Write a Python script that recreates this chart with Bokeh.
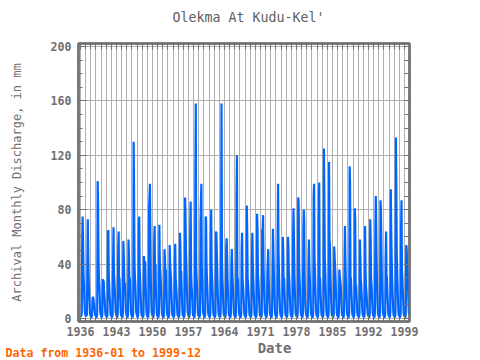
from bokeh.plotting import figure
from bokeh.models import LinearAxis, FixedTicker, Range1d
from bokeh.layouts import column
from bokeh.core.properties import value
from bokeh.embed import file_html
from bokeh.resources import INLINE

# Monthly discharge (mm), Jan..Dec
q_1936_1945 = [
    [2, 2, 2, 4, 58, 75, 54, 32, 25, 14, 5, 3],
    [2, 2, 2, 3, 40, 73, 48, 30, 20, 12, 4, 2],
    [2, 1, 1, 3, 14, 16, 15, 12, 10, 6, 3, 2],
    [2, 1, 1, 4, 101, 83, 46, 30, 25, 15, 5, 3],
    [2, 1, 1, 3, 29, 24, 28, 20, 16, 10, 4, 2],
    [2, 1, 1, 3, 63, 65, 30, 25, 16, 12, 4, 2],
    [2, 1, 1, 4, 41, 67, 33, 28, 22, 14, 5, 3],
    [2, 1, 1, 4, 52, 64, 24, 30, 20, 12, 4, 2],
    [2, 1, 1, 4, 57, 46, 30, 22, 26, 14, 5, 3],
    [2, 1, 1, 4, 58, 46, 25, 30, 20, 12, 4, 2],
]
q_1946_1955 = [
    [2, 1, 1, 5, 130, 91, 40, 30, 25, 14, 5, 3],
    [2, 1, 1, 4, 68, 75, 38, 30, 20, 12, 4, 2],
    [2, 1, 1, 3, 46, 37, 30, 42, 25, 12, 4, 2],
    [2, 1, 1, 5, 81, 90, 99, 64, 30, 15, 5, 3],
    [2, 1, 1, 4, 58, 68, 25, 40, 20, 12, 4, 2],
    [2, 1, 1, 4, 69, 42, 35, 30, 20, 12, 4, 2],
    [2, 1, 1, 4, 51, 45, 30, 36, 22, 12, 4, 2],
    [2, 1, 1, 4, 54, 42, 35, 30, 20, 12, 4, 2],
    [2, 1, 1, 3, 38, 55, 30, 25, 20, 12, 4, 2],
    [2, 1, 1, 4, 63, 54, 30, 35, 22, 12, 4, 2],
]
q_1956_1965 = [
    [2, 1, 1, 5, 89, 76, 50, 40, 25, 14, 5, 3],
    [2, 1, 1, 4, 64, 86, 35, 25, 20, 12, 4, 2],
    [2, 1, 1, 5, 100, 158, 37, 30, 22, 12, 4, 2],
    [2, 1, 1, 4, 70, 86, 99, 38, 28, 14, 5, 3],
    [2, 1, 1, 4, 75, 73, 40, 30, 22, 12, 4, 2],
    [2, 1, 1, 4, 59, 80, 38, 30, 22, 12, 4, 2],
    [2, 1, 1, 4, 64, 63, 50, 35, 22, 12, 4, 2],
    [2, 1, 1, 4, 45, 158, 45, 30, 22, 12, 4, 2],
    [2, 1, 1, 4, 52, 59, 47, 30, 20, 12, 4, 2],
    [2, 1, 1, 4, 39, 51, 35, 28, 20, 12, 4, 2],
]
q_1966_1975 = [
    [2, 1, 1, 5, 90, 120, 22, 30, 20, 12, 4, 2],
    [2, 1, 1, 4, 51, 63, 30, 25, 20, 12, 4, 2],
    [2, 1, 1, 5, 83, 63, 30, 25, 20, 12, 4, 2],
    [2, 1, 1, 4, 46, 63, 40, 30, 20, 12, 4, 2],
    [2, 1, 1, 4, 77, 65, 32, 28, 20, 12, 4, 2],
    [2, 1, 1, 4, 65, 66, 76, 40, 25, 14, 5, 3],
    [2, 1, 1, 3, 32, 42, 51, 30, 20, 12, 4, 2],
    [2, 1, 1, 4, 35, 66, 50, 35, 22, 12, 4, 2],
    [2, 1, 1, 5, 64, 99, 50, 35, 22, 12, 4, 2],
    [2, 1, 1, 4, 60, 50, 25, 30, 20, 12, 4, 2],
]
q_1976_1985 = [
    [2, 1, 1, 4, 60, 54, 35, 30, 20, 12, 4, 2],
    [2, 1, 1, 4, 59, 81, 60, 35, 22, 12, 4, 2],
    [2, 1, 1, 5, 89, 85, 40, 30, 22, 12, 4, 2],
    [2, 1, 1, 4, 66, 80, 71, 30, 15, 8, 4, 2],
    [2, 1, 1, 4, 45, 58, 38, 30, 20, 12, 4, 2],
    [2, 1, 1, 5, 90, 99, 45, 35, 22, 12, 4, 2],
    [2, 1, 1, 5, 84, 100, 25, 30, 20, 12, 4, 2],
    [2, 1, 1, 5, 125, 90, 45, 35, 22, 12, 4, 2],
    [2, 1, 1, 5, 115, 57, 55, 35, 22, 12, 4, 2],
    [2, 1, 1, 4, 53, 45, 38, 30, 20, 12, 4, 2],
]
q_1986_1999 = [
    [2, 1, 1, 4, 36, 31, 28, 25, 18, 10, 4, 2],
    [2, 1, 1, 4, 43, 68, 45, 30, 20, 12, 4, 2],
    [2, 1, 1, 5, 112, 99, 28, 30, 20, 12, 4, 2],
    [2, 1, 1, 4, 81, 72, 24, 25, 18, 10, 4, 2],
    [2, 1, 1, 4, 58, 45, 28, 25, 18, 10, 4, 2],
    [2, 1, 1, 4, 68, 37, 25, 20, 15, 8, 4, 2],
    [2, 1, 1, 4, 73, 59, 30, 25, 18, 10, 4, 2],
    [2, 1, 1, 4, 68, 90, 66, 40, 25, 12, 4, 2],
    [2, 1, 1, 5, 87, 80, 55, 35, 22, 12, 4, 2],
    [2, 1, 1, 4, 45, 64, 32, 30, 20, 12, 4, 2],
    [2, 1, 1, 5, 95, 65, 45, 30, 20, 12, 4, 2],
    [2, 1, 1, 5, 133, 95, 46, 35, 22, 12, 4, 2],
    [2, 1, 1, 4, 67, 87, 35, 30, 20, 12, 4, 2],
    [2, 1, 1, 4, 54, 52, 40, 35, 25, 15, 5, 3],
]
first_year = 1936
x_tick_years = [1936, 1943, 1950, 1957, 1964, 1971, 1978, 1985, 1992, 1999]
y_ticks = [0, 40, 80, 120, 160, 200]
y_minor = list(range(0, 201, 10))
title_text = "Olekma At Kudu-Kel'"
x_label = "Date"
y_label = "Archival Monthly Discharge, in mm"
note_text = "Data from 1936-01 to 1999-12"

rows = q_1936_1945 + q_1946_1955 + q_1956_1965 + q_1966_1975 + q_1976_1985 + q_1986_1999
xs, ys = [], []
for i, row in enumerate(rows):
    for m, v in enumerate(row):
        xs.append(first_year + i + m / 12.0)
        ys.append(v)
all_years = list(range(first_year, first_year + len(rows) + 1))

X0, X1 = 1935.61, 1999.97
Y0, Y1 = -2.2, 202.2
FW, FH = 331, 278
W = 475
TOP_H = 30
BOT_H = 19

GRAY = "#707070"
FONT = "DejaVu Sans Mono"


def text_strip(height):
    f = figure(width=W, height=height, output_backend="svg", toolbar_location=None,
               x_range=Range1d(0, W), y_range=Range1d(height, 0),
               x_axis_type=None, y_axis_type=None, title=None,
               min_border=0, min_border_left=0, min_border_right=0,
               min_border_top=0, min_border_bottom=0,
               background_fill_color="white", border_fill_color="white")
    f.outline_line_color = None
    f.frame_align = False
    return f


# title strip
pt = text_strip(TOP_H)
pt.text(x=[248], y=[17], text=[title_text], text_align="center", text_baseline="middle",
        text_font=value(FONT), text_font_size="13.3px", text_color="#606060")

# main plot
p = figure(frame_width=FW, frame_height=FH, output_backend="svg", toolbar_location=None,
           x_range=Range1d(X0, X1), y_range=Range1d(Y0, Y1), title=None,
           min_border_left=78, min_border_top=13, min_border_right=W - 78 - FW,
           min_border_bottom=20,
           background_fill_color="white", border_fill_color="white")
p.outline_line_color = GRAY
p.outline_line_width = 2.5
p.frame_align = False

xa = p.xaxis[0]
xa.ticker = FixedTicker(ticks=x_tick_years, minor_ticks=all_years)
xa.major_tick_in = 6
xa.major_tick_out = 0
xa.minor_tick_in = 4
xa.minor_tick_out = 0
xa.axis_line_color = GRAY
xa.axis_line_width = 2
xa.major_tick_line_color = GRAY
xa.minor_tick_line_color = GRAY
xa.major_label_text_font = FONT
xa.major_label_text_font_style = "bold"
xa.major_label_text_font_size = "11.6px"
xa.major_label_text_color = GRAY
xa.major_label_standoff = 5

ya = p.yaxis[0]
ya.ticker = FixedTicker(ticks=y_ticks, minor_ticks=y_minor)
ya.major_tick_in = 8
ya.major_tick_out = 0
ya.minor_tick_in = 4
ya.minor_tick_out = 0
ya.axis_line_color = GRAY
ya.axis_line_width = 2
ya.major_tick_line_color = GRAY
ya.minor_tick_line_color = GRAY
ya.major_label_text_font = FONT
ya.major_label_text_font_style = "bold"
ya.major_label_text_font_size = "11.6px"
ya.major_label_text_color = GRAY
ya.major_label_standoff = 7
ya.axis_label = y_label
ya.axis_label_text_font = FONT
ya.axis_label_text_font_style = "normal"
ya.axis_label_text_font_size = "12px"
ya.axis_label_text_color = GRAY
ya.axis_label_standoff = 24

ta = LinearAxis(ticker=FixedTicker(ticks=[], minor_ticks=all_years),
                minor_tick_in=6, minor_tick_out=0, major_tick_in=0, major_tick_out=0,
                axis_line_color=GRAY, axis_line_width=2, minor_tick_line_color=GRAY)
p.add_layout(ta, "above")
ra = LinearAxis(ticker=FixedTicker(ticks=[], minor_ticks=y_minor),
                minor_tick_in=5, minor_tick_out=0, major_tick_in=0, major_tick_out=0,
                axis_line_color=GRAY, axis_line_width=2, minor_tick_line_color=GRAY)
p.add_layout(ra, "right")

p.xgrid.ticker = FixedTicker(ticks=all_years)
p.xgrid.grid_line_color = "#b0b0b0"
p.xgrid.grid_line_width = 1
p.ygrid.ticker = FixedTicker(ticks=y_ticks)
p.ygrid.grid_line_color = "#b0b0b0"
p.ygrid.grid_line_width = 1

p.line(xs, ys, line_color="#0066ff", line_width=2.2)

# bottom strip: axis title and data note
pb = text_strip(BOT_H)
pb.text(x=[274], y=[6.5], text=[x_label], text_align="center", text_baseline="middle",
        text_font=value(FONT), text_font_size="14px", text_font_style="bold", text_color=GRAY)
pb.text(x=[5], y=[11.5], text=[note_text], text_align="left", text_baseline="middle",
        text_font=value(FONT), text_font_size="11.6px", text_font_style="bold",
        text_color="#ff6600")

layout = column(pt, p, pb, spacing=0)
open("out.html", "w").write(file_html(layout, INLINE))
